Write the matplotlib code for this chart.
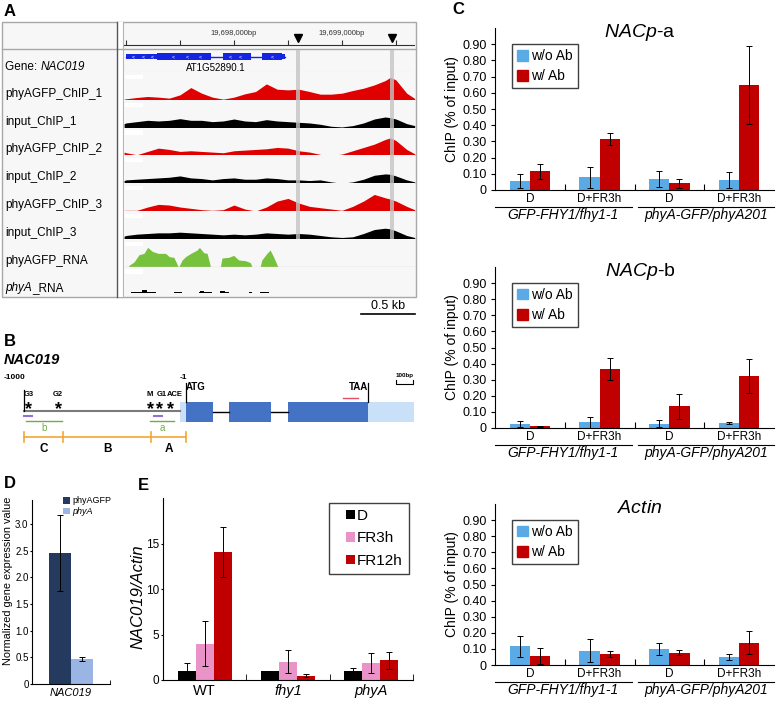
import numpy as np
import matplotlib
matplotlib.use("Agg")
import matplotlib.pyplot as plt
from matplotlib.patches import Patch, Rectangle
from matplotlib.legend_handler import HandlerPatch

plt.rcParams['font.family'] = ['Liberation Sans', 'DejaVu Sans']
plt.rcParams['mathtext.fontset'] = 'custom'
plt.rcParams['mathtext.rm'] = 'Liberation Sans'
plt.rcParams['mathtext.it'] = 'Liberation Sans:italic'
plt.rcParams['mathtext.bf'] = 'Liberation Sans:bold'

W, H = 777, 701

# ---------------- data ----------------
# A: IGV coverage tracks (heights in arbitrary units) along chr1
track_pos = np.array([6982, 7000, 7100, 7200, 7300, 7400, 7500, 7600, 7700, 7800,
                      7900, 8000, 8100, 8200, 8300, 8400, 8500, 8600, 8700, 8800,
                      8900, 9000, 9100, 9200, 9300, 9400, 9450, 9500, 9600, 9674]) + 19690000
chip_1 = [2, 3, 7, 10, 8, 5, 15, 37, 20, 8, 2, 8, 18, 25, 48, 32, 30, 32, 25, 17, 17, 20, 28, 35, 45, 58, 68, 60, 20, 4]
input_1 = [12, 14, 18, 22, 20, 22, 27, 22, 22, 18, 20, 26, 20, 18, 24, 20, 18, 16, 14, 10, 4, 2, 6, 14, 26, 32, 30, 26, 12, 6]
chip_2 = [10, 8, 2, 12, 22, 18, 12, 14, 12, 10, 8, 14, 16, 18, 20, 24, 22, 14, 10, 3, 0, 4, 14, 24, 34, 48, 53, 45, 18, 5]
input_2 = [8, 10, 12, 14, 16, 18, 22, 16, 14, 10, 14, 16, 12, 12, 16, 14, 10, 10, 8, 10, 4, 0, 4, 12, 24, 28, 27, 22, 10, 4]
chip_3 = [2, 2, 2, 12, 20, 18, 12, 8, 4, 2, 4, 18, 6, 0, 12, 30, 38, 24, 14, 10, 6, 2, 14, 30, 50, 40, 36, 30, 14, 4]
input_3 = [8, 10, 14, 16, 18, 18, 20, 18, 16, 14, 12, 14, 12, 14, 18, 16, 14, 16, 14, 10, 6, 4, 6, 16, 28, 32, 30, 24, 10, 4]

rna_pos = np.array([7020, 7028, 7074, 7120, 7166, 7200, 7243, 7298, 7366, 7400, 7443, 7483,
                    7489, 7520, 7551, 7600, 7658, 7680, 7720, 7751, 7782,
                    7874, 7889, 7951, 7997, 8043, 8105, 8151, 8166,
                    8243, 8258, 8305, 8335, 8366, 8406]) + 19690000
rna_val = [0, 4, 14, 36, 40, 58, 46, 40, 40, 30, 28, 0,
           0, 20, 30, 40, 50, 58, 42, 40, 0,
           0, 26, 28, 34, 20, 18, 12, 0,
           0, 20, 40, 50, 30, 0]
phya_rna_start = np.array([7043, 7443, 7674, 7874, 8135, 8243]) + 19690000
phya_rna_end = np.array([7274, 7520, 7797, 7951, 8166, 8320]) + 19690000
phya_rna_height = [3, 2, 3, 3, 2, 2]
phya_rna_peak = np.array([7170, 7705, 7895]) + 19690000
phya_rna_peak_height = [8, 6, 6]

gene_span = (19696997, 19698474)
gene_utr = [(19696997, 19697289), (19698443, 19698474)]
gene_cds = [(19697289, 19697791), (19697895, 19698160), (19698258, 19698443)]
gene_chevrons = [19697072, 19697160, 19697247, 19697441, 19697570, 19697690, 19697967, 19698060, 19698355]
ruler_ticks = [19697000, 19697500, 19698000, 19698500, 19699000, 19699500]
ruler_labels = [19698000, 19699000]
peak_marks = [19698597, 19699460]
view = (19696981, 19699677)

# B: NAC019 promoter / gene model (bp relative to ATG)
promoter = (-1000, -37)
utr5 = (-37, 0)
exons = [(0, 167), (265, 525), (630, 1123)]
utr3 = (1123, 1407)
motif_names = ["G3", "G2", "M", "G1", "ACE"]
motif_pos = [-975, -790, -222, -161, -93]
chip_primers = [(-1000, -951), (-198, -148)]
amplicon_names = ["b", "a"]
amplicons = [(-988, -765), (-222, -74)]
region_names = ["C", "B", "A"]
region_edges = [-1000, -760, -215, 0]
qpcr_primer = (969, 1062)

# C: ChIP-qPCR (% of input)
chip_conditions = ["D", "D+FR3h", "D", "D+FR3h"]
chip_groups = ["GFP-FHY1/fhy1-1", "phyA-GFP/phyA201"]
nacp_a_wo = [0.055, 0.078, 0.067, 0.062]
nacp_a_wo_err = [0.045, 0.064, 0.048, 0.05]
nacp_a_w = [0.115, 0.315, 0.042, 0.65]
nacp_a_w_err = [0.046, 0.037, 0.027, 0.24]
nacp_b_wo = [0.027, 0.035, 0.027, 0.031]
nacp_b_wo_err = [0.019, 0.033, 0.022, 0.007]
nacp_b_w = [0.010, 0.365, 0.135, 0.323]
nacp_b_w_err = [0.005, 0.068, 0.078, 0.104]
actin_wo = [0.115, 0.089, 0.102, 0.051]
actin_wo_err = [0.067, 0.07, 0.037, 0.018]
actin_w = [0.057, 0.070, 0.077, 0.138]
actin_w_err = [0.05, 0.02, 0.015, 0.071]

# D: RNA-seq normalized expression
d_samples = ["phyAGFP", "phyA"]
d_values = [2.46, 0.47]
d_err = [0.71, 0.04]

# E: qRT-PCR NAC019/Actin
e_genotypes = ["WT", "fhy1", "phyA"]
e_treatments = ["D", "FR3h", "FR12h"]
e_values = [[1.0, 1.0, 1.0], [4.0, 2.0, 1.9], [14.1, 0.48, 2.16]]
e_errors = [[0.83, 0.03, 0.28], [2.5, 1.28, 1.12], [2.75, 0.18, 0.9]]

# ---------------- figure ----------------
fig = plt.figure(figsize=(W / 100, H / 100), dpi=100)


def px_axes(x0, y0, x1, y1, **kw):
    return fig.add_axes([x0 / W, 1 - y1 / H, (x1 - x0) / W, (y1 - y0) / H], **kw)


class RightSquare(HandlerPatch):
    # legend square pushed to the right end of the handle box
    def create_artists(self, legend, orig_handle, xdescent, ydescent, width, height, fontsize, trans):
        s = height
        p = Rectangle((-xdescent + width - s, -ydescent), s, s,
                      facecolor=orig_handle.get_facecolor(), lw=0, transform=trans)
        return [p]


ov = px_axes(0, 0, W, H)
ov.set_xlim(0, W)
ov.set_ylim(H, 0)
ov.axis('off')

for letter, (lx, ly) in zip("ABCDE", [(4, 11), (4, 342), (452, 10), (4, 484), (138, 485)]):
    ov.text(lx, ly, letter, fontsize=12, fontweight='bold', va='center', ha='left')

# ---- A: browser frame ----
ov.add_patch(Rectangle((2, 22), 414, 275, facecolor='#f7f7f7', edgecolor='#a8a8a8', lw=1))
ov.add_patch(Rectangle((117, 22), 6, 275, facecolor='white', lw=0))
ov.plot([2, 416], [49, 49], color='#a8a8a8', lw=1)
ov.plot([117, 117], [22, 297], color='#555555', lw=1)
ov.plot([123, 123], [22, 297], color='#b5b5b5', lw=0.8)

row_top = 72
row_h = 27.8
track_names = ["phyAGFP_ChIP_1", "input_ChIP_1", "phyAGFP_ChIP_2", "input_ChIP_2",
               "phyAGFP_ChIP_3", "input_ChIP_3", "phyAGFP_RNA", "phyA_RNA"]
t = ov.text(5, 67, "Gene: ", fontsize=8.5, va='center')
ov.annotate("NAC019", xy=(1, 0), xycoords=t, va='bottom', ha='left', fontsize=8.5, style='italic')
for i, name in enumerate(track_names):
    y = row_top + (i + 1) * row_h - 6
    if name == "phyA_RNA":
        t = ov.text(5, y, "phyA", fontsize=8.5, va='center', style='italic')
        ov.annotate("_RNA", xy=(1, 0), xycoords=t, va='bottom', ha='left', fontsize=8.5)
    else:
        ov.text(5, y, name, fontsize=8.5, va='center')

# ruler
rx = px_axes(124, 22, 415, 49)
rx.set_xlim(*view)
rx.set_ylim(0, 1)
rx.axis('off')
rx.plot(view, [0.15, 0.15], color='#303030', lw=0.8)
rx.vlines(ruler_ticks, 0.15, 0.33, color='#303030', lw=0.8)
for v in ruler_labels:
    rx.text(v, 0.56, f"{v:,}bp", fontsize=5.5, ha='center', va='center', color='#333333')
rx.plot(peak_marks, [0.42, 0.42], 'v', color='black', ms=5.5)

# gene model
gx = px_axes(124, 50, 415, 72)
gx.set_xlim(*view)
gx.set_ylim(0, 1)
gx.axis('off')
gene_blue = '#1424e0'
gx.plot(gene_span, [0.7, 0.7], color=gene_blue, lw=1)
for s, e in gene_utr:
    gx.add_patch(Rectangle((s, 0.6), e - s, 0.2, color=gene_blue, lw=0))
for s, e in gene_cds:
    gx.add_patch(Rectangle((s, 0.53), e - s, 0.34, color=gene_blue, lw=0))
for c in gene_chevrons:
    gx.text(c, 0.7, "<", color='white', fontsize=4, ha='center', va='center')
gx.text(19697828, 0.2, "AT1G52890.1", fontsize=7, ha='center', va='center')
gx.plot(view, [0.0, 0.0], color='#dddddd', lw=0.8)
for m in peak_marks:
    gx.axvspan(m - 18, m + 18, color='#c4c4c4', alpha=0.8, lw=0)

track_data = [(chip_1, '#e00000'), (input_1, 'black'), (chip_2, '#e00000'), (input_2, 'black'),
              (chip_3, '#e00000'), (input_3, 'black')]
track_axes = []
for i in range(8):
    top = row_top + i * row_h
    ax = px_axes(124, top, 415, top + row_h)
    ax.set_xlim(*view)
    ax.set_ylim(0, 84)
    ax.set_facecolor('#f7f7f7')
    for sp in ax.spines.values():
        sp.set_visible(False)
    ax.set_xticks([])
    ax.set_yticks([])
    ax.add_patch(Rectangle((0.005, 0.75), 0.06, 0.15, transform=ax.transAxes, color='white', lw=0))
    if i < 6:
        vals, col = track_data[i]
        ax.fill_between(track_pos, vals, color=col, lw=0)
        for m in peak_marks:
            ax.axvspan(m - 18, m + 18, color='#c4c4c4', alpha=0.8, lw=0)
    elif i == 6:
        ax.fill_between(rna_pos, rna_val, color='#77c23c', lw=0)
        ax.axhline(0, color='#d0d0d0', lw=1)
    else:
        ax.bar(phya_rna_start, phya_rna_height, width=phya_rna_end - phya_rna_start,
               align='edge', color='black', bottom=4)
        ax.bar(phya_rna_peak, phya_rna_peak_height, width=40, color='black', bottom=4)
    track_axes.append(ax)

# scale bar (0.5 kb) drawn on the track scale
last = track_axes[-1]
tr = last.get_xaxis_transform()
last.plot([view[1] - 500, view[1]], [-0.7, -0.7], transform=tr, clip_on=False, color='black', lw=1.2)
last.text(view[1] - 250, -0.42, "0.5 kb", transform=tr, ha='center', va='center', fontsize=9)

# ---- B: gene structure ----
bx = px_axes(0, 345, 420, 460)
bx.set_xlim(-186 / 0.162, (420 - 186) / 0.162)
bx.set_ylim(460, 345)
bx.axis('off')
ov.text(4, 360, "NAC019", fontsize=10.5, fontweight='bold', style='italic', va='center')
bx.plot(promoter, [411, 411], color='#7a7a7a', lw=1.5)
bx.plot([promoter[0]] * 2, [390, 411], color='black', lw=0.9)
bx.add_patch(Rectangle((utr5[0], 402), utr5[1] - utr5[0], 20, color='#c8e0f8', lw=0))
bx.add_patch(Rectangle((utr3[0], 402), utr3[1] - utr3[0], 20, color='#c8e0f8', lw=0))
for k, (s, e) in enumerate(exons):
    bx.add_patch(Rectangle((s, 402), e - s, 20, color='#4472c4', lw=0))
    if k > 0:
        bx.plot([exons[k - 1][1], s], [412, 412], color='black', lw=1)
bx.plot([exons[0][0]] * 2, [383, 402], color='black', lw=0.9)
bx.plot([utr3[0]] * 2, [383, 402], color='black', lw=0.9)
bx.text(-994, 377, "-1000", ha='right', va='center', fontsize=6, fontweight='bold')
bx.text(-19, 377, "-1", ha='center', va='center', fontsize=6, fontweight='bold')
bx.text(0, 387, "ATG", ha='left', va='center', fontsize=7, fontweight='bold')
bx.text(utr3[0], 387, "TAA", ha='right', va='center', fontsize=7, fontweight='bold')
bx.plot(qpcr_primer, [398, 398], color='#e05060', lw=1)
# 100bp scale bracket
bx.plot([1296, 1296, 1401, 1401], [380, 384, 384, 380], color='black', lw=0.8)
bx.text(1348, 375, "100bp", ha='center', va='center', fontsize=4.5, fontweight='bold')
label_offsets = [0, 0, 0, 14, 25]
for name, p, off in zip(motif_names, motif_pos, label_offsets):
    if name == "G3":
        bx.text(promoter[0], 395, name, fontsize=5.5, fontweight='bold', ha='left', va='center')
    else:
        bx.text(p + off, 395, name, fontsize=5.5, fontweight='bold', ha='center', va='center')
    bx.text(p, 410, "*", fontsize=13, fontweight='bold', ha='center', va='center')
for s, e in chip_primers:
    bx.plot([s, e], [416, 416], color='#8f6fd8', lw=1.5)
for name, (s, e) in zip(amplicon_names, amplicons):
    bx.plot([s, e], [421, 421], color='#70ad47', lw=1)
    bx.text((s + e) / 2, 428, name, color='#70ad47', fontsize=7, ha='center', va='center')
orange = '#f3a533'
bx.plot([region_edges[0], region_edges[-1]], [437, 437], color=orange, lw=1.2)
for edge in region_edges:
    bx.plot([edge, edge], [432, 442], color=orange, lw=1.2)
for name, s, e in zip(region_names, region_edges[:-1], region_edges[1:]):
    bx.text((s + e) / 2, 449, name, fontsize=8.5, fontweight='bold', ha='center', va='center')

# ---- C: ChIP panels ----
c_wo = '#5aaae6'
c_w = '#c00000'
ekw = dict(ecolor='black', elinewidth=0.7, capsize=2, capthick=0.7)


def chip_panel(y0, y1, title, wo, wo_err, w, w_err):
    ax = px_axes(495, y0, 774, y1)
    x = np.arange(len(chip_conditions))
    bw = 0.29
    ax.bar(x - bw / 2, wo, bw, color=c_wo, yerr=wo_err, error_kw=ekw, label="w/o Ab")
    ax.bar(x + bw / 2, w, bw, color=c_w, yerr=w_err, error_kw=ekw, label="w/ Ab")
    ax.set_xlim(-0.5, 3.5)
    ax.set_ylim(0, 1.0)
    yt = np.round(np.arange(0, 0.95, 0.1), 2)
    ax.set_yticks(yt, ["0"] + [f"{v:.2f}" for v in yt[1:]], fontsize=9)
    ax.set_xticks(x, chip_conditions, fontsize=8.5)
    ax.set_xticks([0.5, 1.5, 2.5], minor=True)
    ax.tick_params(axis='x', which='major', length=0, pad=2)
    ax.tick_params(axis='x', which='minor', direction='in', length=4, width=0.8)
    ax.tick_params(axis='y', length=3, width=0.8, pad=3)
    for sp in ['top', 'right']:
        ax.spines[sp].set_visible(False)
    ax.set_ylabel("ChIP (% of input)", fontsize=10)
    ax.yaxis.set_label_coords((459 - 495) / 279, 0.5)
    ax.text(0.52, 0.975, title, transform=ax.transAxes, ha='center', va='center', fontsize=14)
    ax.legend(handles=[Patch(color=c_wo), Patch(color=c_w)], labels=["w/o Ab", "w/ Ab"],
              loc='upper left', bbox_to_anchor=(0.06, 0.9), frameon=True, fancybox=False,
              edgecolor='#404040', framealpha=1, fontsize=10, handlelength=0.8, handleheight=0.8,
              handletextpad=0.25, borderpad=0.35, labelspacing=0.45, borderaxespad=0)
    tr = ax.get_xaxis_transform()
    h = y1 - y0
    spans = [(-0.5, 1.46), (1.55, 3.5)]
    for g, (s, e) in zip(chip_groups, spans):
        ax.plot([s, e], [-17 / h] * 2, transform=tr, clip_on=False, color='black', lw=0.8)
        ax.text((s + e) / 2, -25 / h, g, transform=tr, ha='center', va='center',
                style='italic', fontsize=10)
    return ax


chip_panel(28, 190, "$\\it{NACp}$-a", nacp_a_wo, nacp_a_wo_err, nacp_a_w, nacp_a_w_err)
chip_panel(267, 428, "$\\it{NACp}$-b", nacp_b_wo, nacp_b_wo_err, nacp_b_w, nacp_b_w_err)
chip_panel(504, 665, "$\\it{Actin}$", actin_wo, actin_wo_err, actin_w, actin_w_err)

# ---- D ----
dx = px_axes(32, 500, 110, 684)
d_cols = ['#243a5e', '#9ab5e3']
d_bw = 0.282
for k, (lab, v, e) in enumerate(zip(d_samples, d_values, d_err)):
    dx.bar(0.5 + (k - 0.5) * d_bw, v, d_bw, color=d_cols[k], yerr=e, error_kw=ekw, label=lab)
dx.set_xlim(0, 1)
dx.set_ylim(0, 3.45)
dyt = np.arange(0, 3.01, 0.5)
dx.set_yticks(dyt, ["0"] + [f"{v:.1f}" for v in dyt[1:]], fontsize=7)
dx.set_xticks([0.5], ["NAC019"], fontsize=8, style='italic')
dx.set_xticks([1.0], minor=True)
dx.tick_params(axis='x', which='major', length=0, pad=3)
dx.tick_params(axis='x', which='minor', direction='in', length=3)
dx.tick_params(axis='y', length=1.5, pad=1)
for sp in ['top', 'right']:
    dx.spines[sp].set_visible(False)
dx.set_ylabel("Normalized gene expression value", fontsize=7.8)
dx.yaxis.set_label_coords((13.5 - 32) / 78, 0.56)
dleg = dx.legend(loc='upper right', bbox_to_anchor=(1.02, 1.02), frameon=False, fontsize=6.5,
                 handlelength=0.8, handleheight=0.8, handletextpad=0.3, labelspacing=0.2,
                 borderpad=0, borderaxespad=0)
dleg.get_texts()[1].set_style('italic')

# ---- E ----
ex = px_axes(163, 498, 413, 680)
e_cols = ['black', '#ea93c9', '#c00000']
e_bw = 0.216
xg = np.arange(len(e_genotypes))
for k, (tname, vals, errs) in enumerate(zip(e_treatments, e_values, e_errors)):
    ex.bar(xg + (k - 1) * e_bw, vals, e_bw, color=e_cols[k], yerr=errs, error_kw=ekw, label=tname)
ex.set_xlim(-0.5, 2.5)
ex.set_ylim(0, 20)
ex.set_yticks([0, 5, 10, 15], ["0", "5", "10", "15"], fontsize=8.5)
ex.set_xticks(xg, e_genotypes, fontsize=10.5)
for lbl in ex.get_xticklabels()[1:]:
    lbl.set_style('italic')
ex.set_xticks([0.5, 1.5, 2.5], minor=True)
ex.tick_params(axis='x', which='major', length=0, pad=3)
ex.tick_params(axis='x', which='minor', direction='in', length=4)
ex.tick_params(axis='y', length=1.5, pad=1)
for sp in ['top', 'right']:
    ex.spines[sp].set_visible(False)
ex.set_ylabel("NAC019/Actin", fontsize=12)
ex.yaxis.label.set_style('italic')
ex.yaxis.set_label_coords((145 - 163) / 250, 0.46)
ex.legend(handles=[Patch(color=c) for c in e_cols], labels=e_treatments,
          handler_map={Patch: RightSquare()},
          loc='upper right', bbox_to_anchor=(0.984, 0.973), frameon=True, fancybox=False,
          edgecolor='#404040', framealpha=1, fontsize=11, handlelength=1.35, handleheight=0.55,
          handletextpad=0.12, labelspacing=0.55, borderpad=0.4, borderaxespad=0)

fig.savefig("out.png", dpi=100)
